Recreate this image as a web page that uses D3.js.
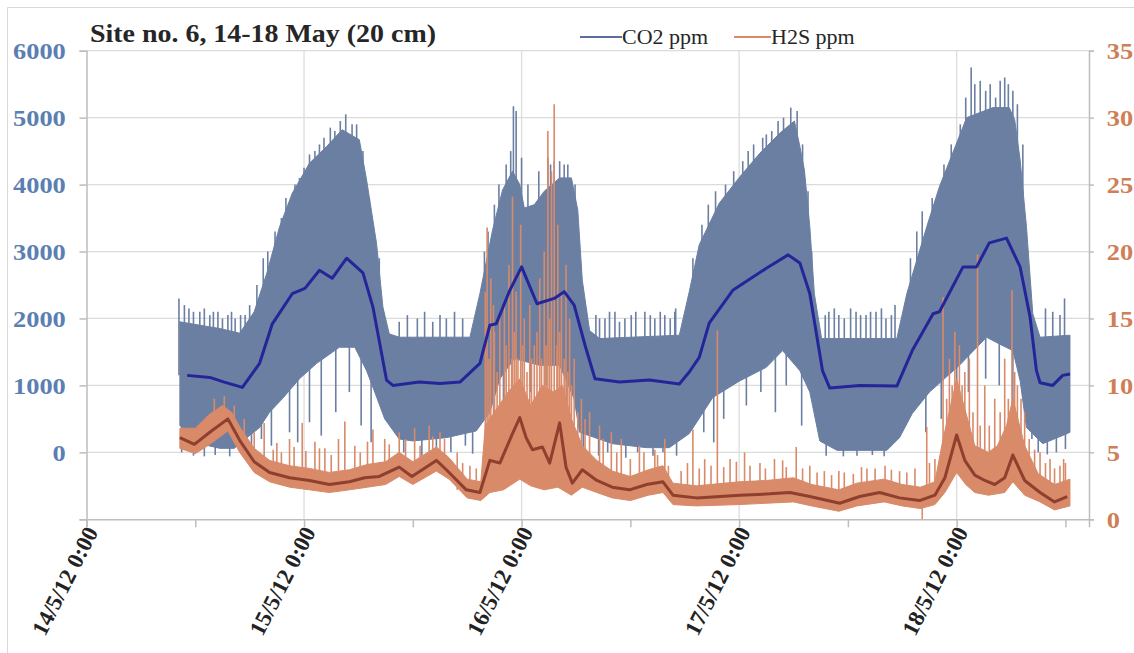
<!DOCTYPE html>
<html>
<head>
<meta charset="utf-8">
<script src="https://cdn.jsdelivr.net/npm/d3@7"></script>
<style>
  body { margin: 0; background: #fff; }
  svg { display: block; font-family: "Liberation Serif", "Times New Roman", serif; }
</style>
</head>
<body>
<svg id="chart" width="1134" height="653"></svg>
<script>
// hours after 14/5/12 0:00, value
var co2Avg = [[11.1,1150],[13.6,1120],[15.2,1050],[17.2,970],[19.1,1330],[20.5,1920],[22.7,2370],[24.1,2450],[25.7,2720],[27.1,2600],[28.7,2900],[30.5,2680],[31.6,2170],[33.1,1080],[33.8,1000],[36.7,1050],[39.0,1030],[41.2,1050],[43.4,1330],[44.5,1900],[45.2,1920],[46.7,2420],[48.0,2770],[49.7,2220],[51.6,2300],[52.7,2400],[53.8,2200],[55.0,1600],[56.1,1100],[58.8,1050],[62.1,1080],[65.4,1020],[66.5,1200],[67.6,1420],[68.7,1930],[71.3,2420],[75.0,2750],[77.4,2950],[78.7,2830],[79.8,2370],[81.2,1220],[82.0,960],[85.3,1000],[89.4,990],[91.1,1520],[93.4,2070],[94.1,2100],[96.7,2770],[98.2,2770],[99.6,3130],[101.5,3200],[103.0,2770],[104.1,2020],[104.8,1220],[105.2,1040],[106.6,1000],[107.7,1150],[108.5,1170]];
var co2High = [[10.3,1950],[12.5,1900],[14.7,1850],[16.9,1780],[18.5,2100],[19.9,2680],[21.3,3370],[22.7,3870],[24.6,4320],[26.5,4570],[28.2,4820],[30.1,4670],[30.9,4070],[32.0,3120],[32.7,2170],[33.4,1770],[34.5,1720],[42.3,1720],[43.4,2370],[44.8,3320],[45.9,3920],[47.0,4200],[47.8,4000],[48.3,3650],[49.4,3700],[50.5,3900],[52.2,4100],[53.5,4100],[54.2,3620],[54.7,2570],[55.5,1820],[56.6,1700],[65.4,1750],[66.5,2400],[67.6,3100],[69.8,3720],[72.1,4120],[74.3,4470],[76.5,4770],[78.1,4950],[78.7,4570],[79.2,4220],[79.8,3370],[80.3,2370],[81.1,1700],[89.4,1700],[90.5,2370],[92.7,3370],[94.1,3970],[96.0,4620],[97.1,5000],[100.0,5150],[101.8,5150],[102.4,4970],[103.0,4370],[103.7,3370],[104.4,2070],[105.2,1720],[108.5,1750]];
var co2Low = [[10.3,400],[12.5,130],[14.7,60],[16.3,60],[17.7,220],[19.1,370],[20.2,600],[21.6,800],[23.5,1100],[25.4,1330],[27.9,1570],[29.6,1570],[30.9,1220],[31.8,900],[32.9,500],[34.5,200],[36.0,170],[39.7,220],[43.0,320],[44.5,600],[45.6,1100],[47.2,1400],[50.0,1300],[52.2,1300],[53.8,800],[54.4,300],[58.0,130],[61.8,70],[64.3,70],[66.5,280],[69.1,820],[72.1,1070],[75.0,1270],[76.8,1520],[78.7,1220],[79.8,900],[80.9,170],[82.8,30],[88.3,30],[89.7,220],[91.1,580],[93.0,900],[96.3,1300],[99.3,1720],[100.7,1620],[102.2,1520],[103.0,1070],[103.7,370],[105.5,130],[108.2,280],[108.5,300]];
var co2Peaks = [[10.2,2300],[10.8,2200],[11.3,2150],[11.8,2100],[12.5,2100],[13.0,2150],[13.6,2050],[14.0,2100],[14.5,2100],[15.0,2000],[15.6,2050],[16.0,2100],[16.4,2000],[17.0,2050],[17.5,2050],[18.0,2200],[18.8,2500],[19.5,2900],[20.0,3000],[20.8,3300],[21.5,3500],[22.0,3800],[23.0,4000],[23.5,4100],[24.0,4250],[24.6,4450],[25.2,4500],[25.7,4600],[26.2,4700],[26.9,4850],[27.4,4800],[28.0,4950],[28.6,5050],[29.3,4900],[29.8,4900],[30.5,4500],[31.2,3800],[32.3,2900],[34.5,1950],[35.4,2050],[36.5,2000],[37.3,2100],[38.2,1950],[39.0,2050],[39.7,2000],[40.6,2100],[41.5,2000],[43.9,3000],[44.3,3300],[45.0,3700],[45.5,4000],[46.3,4300],[46.8,4500],[47.1,5170],[47.4,5100],[48.0,4400],[48.7,4000],[49.9,4200],[50.9,4400],[51.2,4300],[51.6,4350],[52.2,4350],[52.7,4300],[53.1,4300],[53.9,4000],[56.2,2050],[56.6,2000],[57.2,2000],[57.7,2100],[58.3,2100],[58.8,1950],[59.4,2000],[60.1,2050],[60.6,2100],[61.6,2100],[62.2,2050],[62.7,2000],[63.3,2100],[63.8,2050],[64.4,2000],[64.9,2100],[65.0,2150],[66.9,2900],[67.9,3400],[68.6,3700],[69.4,3900],[70.5,4000],[71.4,4200],[72.4,4350],[73.0,4500],[73.6,4600],[74.6,4700],[75.0,4750],[75.6,4800],[76.3,4950],[76.9,5000],[77.7,5150],[78.4,5100],[79.0,4600],[79.6,3900],[80.0,3000],[81.5,2050],[81.9,2100],[82.5,2150],[83.0,2050],[83.6,2000],[84.3,2150],[84.9,2100],[85.4,2050],[86.0,2050],[86.5,2100],[87.1,2100],[87.7,2150],[88.2,2000],[88.8,2050],[89.2,2200],[90.9,2900],[91.6,3300],[92.2,3600],[93.3,3800],[94.6,4300],[95.4,4600],[96.4,4900],[97.0,5300],[97.6,5750],[98.0,5500],[98.6,5550],[99.2,5400],[99.7,5500],[100.3,5300],[100.8,5550],[101.3,5600],[101.7,5500],[102.2,5400],[102.7,5200],[103.3,4600],[105.8,2150],[106.6,2100],[107.4,2050],[107.9,2300]];
var co2Dips = [[10.5,0],[11.8,-50],[13.0,-60],[14.2,-40],[15.8,-60],[17.0,0],[18.2,100],[19.3,200],[20.4,100],[22.4,300],[23.3,150],[24.6,450],[25.9,250],[27.5,600],[29.0,900],[30.3,400],[31.4,150],[35.0,0],[37.0,-50],[38.6,50],[40.2,0],[41.8,100],[42.6,-20],[45.0,500],[46.0,700],[49.0,900],[50.7,1000],[53.0,400],[54.8,0],[56.5,-50],[57.5,0],[59.5,-80],[60.8,0],[62.5,-50],[63.6,0],[65.1,-50],[68.1,300],[69.2,150],[70.3,500],[72.8,700],[74.4,900],[76.0,600],[77.2,1000],[78.9,400],[81.6,-50],[83.5,-60],[85.0,-50],[86.7,-40],[88.0,-60],[92.6,300],[94.3,500],[96.0,700],[97.3,900],[99.2,1100],[100.7,1000],[102.2,600],[104.3,200],[105.0,0],[106.0,-30],[107.0,0],[108.0,50]];

var h2sAvg = [[10.3,6.1],[11.9,5.6],[13.6,6.5],[15.6,7.5],[16.9,5.9],[18.5,4.3],[20.2,3.5],[22.4,3.1],[24.6,2.9],[26.8,2.6],[29.0,2.8],[30.7,3.1],[32.3,3.2],[34.5,3.9],[35.9,3.2],[38.6,4.4],[39.7,3.7],[41.9,2.2],[43.4,2.0],[44.5,4.4],[45.6,4.2],[47.0,6.4],[47.8,7.6],[48.5,6.1],[49.2,5.2],[50.3,5.4],[51.1,4.2],[52.2,7.2],[52.9,3.9],[53.6,2.7],[54.7,3.7],[56.3,2.9],[58.0,2.4],[59.9,2.2],[61.8,2.6],[63.6,2.8],[64.7,1.8],[67.3,1.6],[72.1,1.8],[75.4,1.9],[77.6,2.0],[79.8,1.7],[83.1,1.2],[85.3,1.7],[87.5,2.0],[89.7,1.6],[91.9,1.4],[93.6,1.8],[94.7,3.1],[96.0,6.3],[96.9,4.4],[98.0,3.3],[99.1,2.9],[100.2,2.6],[101.3,3.1],[102.2,4.8],[103.5,2.9],[105.2,2.0],[106.8,1.3],[108.2,1.7]];
var h2sHigh = [[10.3,6.8],[12.0,6.8],[13.5,7.8],[15.0,8.5],[16.0,8.0],[17.0,6.8],[18.5,5.3],[20.2,4.4],[22.4,4.0],[24.6,3.8],[26.8,3.5],[29.0,3.7],[31.0,4.1],[33.0,4.3],[34.5,5.0],[36.0,4.3],[38.6,5.4],[40.0,4.6],[42.0,3.0],[43.5,2.8],[44.0,7.0],[45.0,8.0],[46.5,9.5],[47.8,10.5],[49.0,8.5],[50.3,10.0],[51.5,9.5],[52.5,10.0],[53.5,7.5],[54.7,5.5],[56.3,4.4],[58.0,3.6],[60.0,3.2],[62.0,3.7],[63.6,4.0],[64.7,2.7],[67.3,2.5],[72.0,2.8],[75.0,2.9],[78.0,3.1],[80.0,2.6],[83.0,2.2],[85.0,2.7],[88.0,3.0],[90.0,2.6],[92.0,2.4],[93.6,2.8],[94.5,6.0],[96.0,10.5],[97.0,8.0],[98.0,5.5],[99.5,5.0],[100.5,5.5],[101.5,7.0],[102.2,9.0],[103.5,5.5],[105.0,3.4],[106.8,2.6],[108.5,3.0]];
var h2sLow = [[10.3,5.3],[12.0,4.9],[13.6,5.6],[15.6,6.6],[16.9,5.0],[18.5,3.5],[20.2,2.8],[22.4,2.4],[24.6,2.2],[26.8,2.0],[29.0,2.2],[31.0,2.4],[33.0,2.6],[34.5,3.2],[36.0,2.6],[38.6,3.6],[40.0,3.0],[42.0,1.6],[43.5,1.4],[44.5,2.0],[46.0,2.2],[47.8,3.0],[49.0,2.5],[50.5,2.2],[52.0,2.4],[53.5,1.8],[54.7,2.4],[56.3,2.0],[58.0,1.6],[60.0,1.4],[62.0,1.8],[63.6,2.0],[64.7,1.1],[67.3,1.0],[72.0,1.1],[75.0,1.2],[78.0,1.3],[80.0,1.0],[83.0,0.6],[85.0,1.0],[88.0,1.3],[90.0,1.0],[92.0,0.8],[93.6,1.1],[94.7,2.0],[96.0,3.5],[97.0,2.6],[98.0,2.0],[99.5,1.8],[101.3,2.0],[102.2,2.8],[103.5,1.8],[105.2,1.3],[106.8,0.7],[108.5,1.0]];
var h2sPeaks = [[14.1,9.0],[15.2,9.2],[16.3,8.5],[17.4,7.5],[18.5,6.5],[19.6,7.2],[20.6,5.2],[21.0,5.7],[21.5,5.0],[22.4,6.0],[22.9,5.4],[23.8,7.2],[24.2,5.1],[25.2,5.8],[25.7,5.3],[26.3,5.3],[27.0,4.8],[27.8,6.0],[28.5,7.3],[29.6,5.5],[30.2,5.0],[31.0,5.8],[31.6,6.7],[32.9,6.0],[33.4,5.6],[34.5,6.5],[35.2,6.0],[36.2,6.8],[36.8,5.5],[37.8,7.0],[38.2,6.2],[39.0,6.5],[39.5,6.0],[40.9,5.0],[41.5,4.2],[42.3,4.0],[43.0,3.8],[44.0,17],[44.2,21.8],[44.4,12],[44.6,18],[44.9,16],[45.0,14],[45.3,11],[45.6,15.5],[46.1,16],[46.3,13],[46.6,19],[46.9,12],[47.0,24.1],[47.2,14],[47.4,17],[47.6,12],[47.9,22],[48.1,13],[48.3,15],[48.6,11],[48.9,16],[49.1,12],[49.4,13],[49.7,14],[50.0,18],[50.2,12],[50.5,20],[50.7,13],[50.9,29],[51.1,15],[51.3,26],[51.6,31],[51.9,13],[52.0,22],[52.2,14],[52.4,17],[52.7,12],[52.9,19],[53.1,11],[53.3,15],[53.5,10],[53.8,12],[54.2,8],[54.6,9],[55.0,7.5],[55.5,8],[56.6,7],[57.0,6.0],[57.9,6.5],[58.5,5.0],[59.0,6],[60.0,4.5],[61.0,5.5],[61.5,5.0],[62.7,5.2],[63.0,4.8],[63.8,6.0],[64.2,4.0],[65.6,3.6],[66.3,4.2],[66.9,6.7],[67.6,3.8],[68.2,4.5],[68.9,4.0],[69.6,14.1],[70.3,3.9],[71.0,4.5],[71.7,4.3],[72.6,5.0],[73.2,4.0],[74.3,4.2],[74.9,3.8],[75.9,4.5],[76.8,4.4],[77.2,3.9],[78.3,5.4],[79.0,3.8],[79.8,4.0],[80.6,3.5],[81.4,3.6],[82.2,3.3],[83.0,3.6],[83.6,3.5],[84.6,3.4],[85.5,3.9],[86.1,3.8],[87.0,3.8],[88.1,4.0],[88.8,3.7],[89.7,3.6],[90.5,3.5],[91.4,3.8],[92.7,6.9],[93.0,4.2],[93.6,4.5],[94.5,16.6],[94.9,9],[95.2,12],[95.5,10],[95.8,14],[96.3,13],[96.6,10],[96.9,11],[97.4,12],[97.8,8],[98.3,19.8],[98.6,7],[99.1,10],[99.6,7],[100.2,9],[100.8,8],[101.3,12],[101.7,9],[102.1,17.1],[102.4,11],[102.7,10],[103.1,9],[103.5,8],[104.0,6.0],[104.6,5.2],[105.2,5],[105.8,4.2],[106.3,4.5],[106.8,3.8],[107.4,4.0],[107.8,4.5],[108.0,4.2]];
var h2sDips = [[92.2,0]];

var co2Ticks = [0, 1000, 2000, 3000, 4000, 5000, 6000];
var h2sTicks = [0, 5, 10, 15, 20, 25, 30, 35];
var dayTicks = [0, 24, 48, 72, 96];
var halfDayTicks = [0, 12, 24, 36, 48, 60, 72, 84, 96, 108];
var seriesNames = ['CO2 ppm', 'H2S ppm'];
var titleText = 'Site no. 6, 14-18 May (20 cm)';

var svg = d3.select('#chart');
var plotL = 86.5, plotR = 1089, plotT = 50.7, plotB = 519.3;
var stretch = 1.15; // the picture is a little wider than tall
var t0 = new Date(2012, 4, 14, 0, 0);
function T(h) { return d3.timeMinute.offset(t0, Math.round(h * 60)); }

var x = d3.scaleTime().domain([T(0), T(110.6)]).range([plotL, plotR]);
var yL = d3.scaleLinear().domain([-1000, 6000]).range([plotB, plotT]);
var yR = d3.scaleLinear().domain([0, 35]).range([plotB, plotT]);

// outer border
svg.append('path').attr('d', 'M7.5,660V7.5H1140').attr('fill', 'none').attr('stroke', '#d9d9d9');

// gridlines
svg.append('g').selectAll('line').data(co2Ticks).join('line')
  .attr('x1', plotL).attr('x2', plotR)
  .attr('y1', d => yL(d)).attr('y2', d => yL(d))
  .attr('stroke', '#dcdcdc').attr('stroke-width', 1.3);
svg.append('g').selectAll('line').data(dayTicks.slice(1)).join('line')
  .attr('x1', d => x(T(d))).attr('x2', d => x(T(d)))
  .attr('y1', plotT).attr('y2', plotB)
  .attr('stroke', '#dcdcdc').attr('stroke-width', 1.3);

// axes
var fmt = d3.timeFormat('%-d/%-m/%y %-H:%M');
var gx = svg.append('g').attr('transform', 'translate(0,' + plotB + ')')
  .call(d3.axisBottom(x).tickValues(halfDayTicks.map(T)).tickSize(8).tickFormat(''));
var gl = svg.append('g').attr('transform', 'translate(' + plotL + ',0)')
  .call(d3.axisLeft(yL).tickValues(co2Ticks.concat([-1000])).tickSize(7).tickFormat(d => d < 0 ? '' : d));
var gr = svg.append('g').attr('transform', 'translate(' + plotR + ',0)')
  .call(d3.axisRight(yR).tickValues(h2sTicks).tickSize(5));
[gx, gl, gr].forEach(function(g) {
  g.select('.domain').attr('stroke', '#bdbdbd').attr('stroke-width', 1.5);
  g.selectAll('.tick line').attr('stroke', '#bdbdbd').attr('stroke-width', 1.5);
});
gl.selectAll('.tick text').attr('font-size', 23).attr('font-weight', 'bold')
  .attr('fill', '#5b7fb3').attr('x', -18).attr('dy', '0.35em')
  .attr('transform', 'scale(' + stretch + ',1)')
  .attr('font-family', '"Liberation Serif", serif');
gr.selectAll('.tick text').attr('font-size', 23).attr('font-weight', 'bold')
  .attr('fill', '#cf7f56').attr('x', 15.5).attr('dy', '0.35em')
  .attr('transform', 'scale(' + stretch + ',1)')
  .attr('font-family', '"Liberation Serif", serif');

svg.append('g').selectAll('text').data(dayTicks).join('text')
  .attr('transform', d => 'translate(' + (x(T(d)) + 5) + ',' + (plotB + 9) + ') rotate(-63)')
  .attr('text-anchor', 'end').attr('dy', '0.35em')
  .attr('font-size', 23).attr('font-weight', 'bold').attr('fill', '#222')
  .text(d => fmt(T(d)));

// helpers
function nearest(arr, h) {
  return d3.least(arr, d => Math.abs(d[0] - h))[1];
}
function band(hi, lo, y) {
  var pts = hi.concat(lo.slice().reverse());
  return d3.line().x(d => x(T(d[0]))).y(d => y(d[1]))(pts) + 'Z';
}
function spikes(g, list, avg, y, color, w) {
  g.selectAll(null).data(list).join('line')
    .attr('x1', d => x(T(d[0]))).attr('x2', d => x(T(d[0])))
    .attr('y1', d => y(d[1])).attr('y2', d => y(nearest(avg, d[0])))
    .attr('stroke', color).attr('stroke-width', w);
}

var plot = svg.append('g');
var co2Color = '#6b7fa3', h2sColor = '#d88a69';

// CO2 raw
var gc = plot.append('g');
spikes(gc, co2Peaks, co2Avg, yL, co2Color, 1.6);
spikes(gc, co2Dips, co2Avg, yL, co2Color, 1.6);
gc.append('path').attr('d', band(co2High, co2Low, yL))
  .attr('fill', co2Color).attr('stroke', co2Color).attr('stroke-width', 1);

// H2S raw
var gh = plot.append('g');
spikes(gh, h2sPeaks, h2sAvg, yR, h2sColor, 1.6);
spikes(gh, h2sDips, h2sAvg, yR, h2sColor, 1.5);
gh.append('path').attr('d', band(h2sHigh, h2sLow, yR))
  .attr('fill', h2sColor).attr('stroke', h2sColor).attr('stroke-width', 1);

// moving averages
var lineL = d3.line().x(d => x(T(d[0]))).y(d => yL(d[1]));
var lineR = d3.line().x(d => x(T(d[0]))).y(d => yR(d[1]));
plot.append('path').attr('d', lineL(co2Avg)).attr('fill', 'none')
  .attr('stroke', '#25259a').attr('stroke-width', 3).attr('stroke-linejoin', 'round');
plot.append('path').attr('d', lineR(h2sAvg)).attr('fill', 'none')
  .attr('stroke', '#8f3f2e').attr('stroke-width', 3).attr('stroke-linejoin', 'round');

// title
svg.append('text').attr('transform', 'translate(90,42) scale(' + stretch + ',1)')
  .attr('font-size', 24.3).attr('font-weight', 'bold').attr('fill', '#262626')
  .text(titleText);

// legend
var legend = svg.append('g').attr('transform', 'translate(580,37)');
var legItems = legend.selectAll('g').data(seriesNames).join('g')
  .attr('transform', (d, i) => 'translate(' + (i * 154) + ',0)');
legItems.append('line').attr('x1', 0).attr('x2', d => d[0] == 'C' ? 42 : 37).attr('y1', 0).attr('y2', 0)
  .attr('stroke', (d, i) => i ? '#d88a69' : '#5a6d9c').attr('stroke-width', 2);
legItems.append('text').attr('transform', d => 'translate(' + (d[0] == 'C' ? 42 : 37) + ',0) scale(1.1,1)')
  .attr('dy', '0.35em').attr('font-size', 20).attr('fill', '#262626').text(d => d);
</script>
</body>
</html>
